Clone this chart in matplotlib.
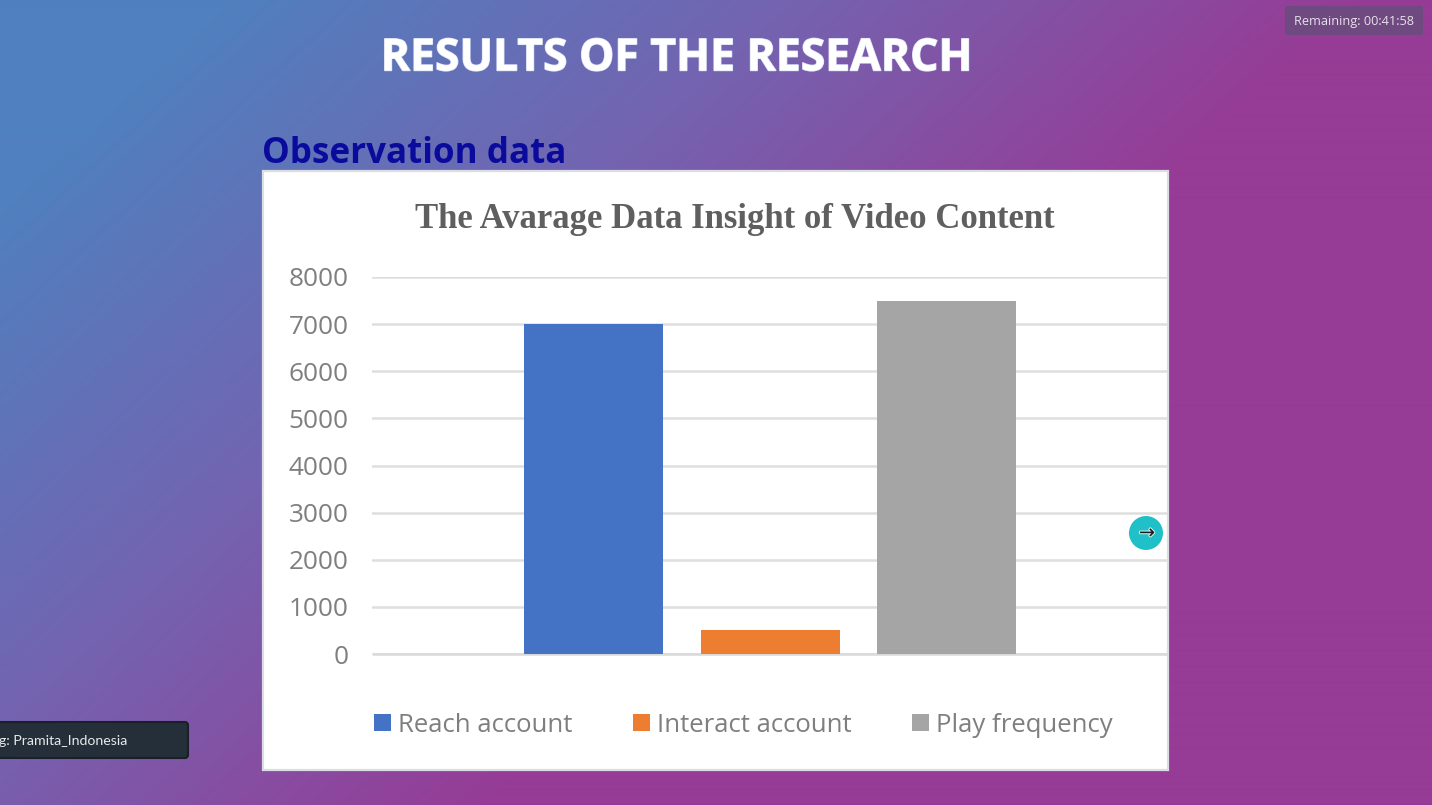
import numpy as np
import matplotlib
matplotlib.use("Agg")
import matplotlib.pyplot as plt
from matplotlib.colors import LinearSegmentedColormap
from matplotlib.patches import FancyBboxPatch, Rectangle, Circle
import matplotlib.patheffects as pe

series_names = ["Reach account", "Interact account", "Play frequency"]
series_values = [7000, 500, 7500]
series_colors = ["#4472c4", "#ed7d31", "#a5a5a5"]
y_ticks = [0, 1000, 2000, 3000, 4000, 5000, 6000, 7000, 8000]

W, H = 1432, 805
fig = plt.figure(figsize=(W / 100, H / 100), dpi=100)

# overlay in pixel coordinates for the slide
bg = fig.add_axes([0, 0, 1, 1], zorder=0)
bg.set_xlim(0, W)
bg.set_ylim(H, 0)
bg.axis("off")
xx, yy = np.meshgrid(np.arange(W), np.arange(H))
t = np.clip((xx + 1.09 * yy - 230) / 1130, 0, 1)
cmap = LinearSegmentedColormap.from_list("g", ["#5080bf", "#7463b0", "#963c96"])
bg.imshow(t, cmap=cmap, extent=(0, W, H, 0), aspect="auto", vmin=0, vmax=1)
bg.set_xlim(0, W)
bg.set_ylim(H, 0)

bg.add_patch(Rectangle((263, 171), 905, 599, fc="white", ec="#dcdce4", lw=1.6))

bg.text(677, 59, "RESULTS OF THE RESEARCH", family="Open Sans", weight="bold",
        fontsize=32, color="white", ha="center", va="center",
        path_effects=[pe.withStroke(linewidth=1, foreground="#d8e0f8")])
bg.text(262, 154, "Observation data", family="Open Sans", weight="bold",
        fontsize=25.2, color="#0a0a9c", ha="left", va="center")
bg.text(735, 219, "The Avarage Data Insight of Video Content",
        family="Liberation Serif", weight="bold", fontsize=25, color="#5f5f5f",
        ha="center", va="center")

# remaining-time chip
bg.add_patch(FancyBboxPatch((1285, 6), 138, 29, boxstyle="round,pad=0,rounding_size=2",
                            fc="#6e4a80", ec="none"))
bg.text(1353.5, 21, "Remaining: 00:41:58", family="Open Sans", fontsize=9.2,
        color="#e8dfea", ha="center", va="center")

# name chip
bg.add_patch(FancyBboxPatch((-10, 722), 198, 36, boxstyle="round,pad=0,rounding_size=3",
                            fc="#252f3a", ec="#1a1f28", lw=1.5))
bg.text(-1, 741, "g: Pramita_Indonesia", family="Lato", fontsize=10.2,
        color="#e6e8ea", ha="left", va="center")

# chart axes: x pixels 372..1169, y pixels 654..277
ax = fig.add_axes([372 / W, 1 - 654 / H, (1168 - 372) / W, (654 - 277) / H], zorder=2)
ax.patch.set_alpha(0)
x = np.arange(len(series_values))
bars = ax.bar(x, series_values, width=0.7875, color=series_colors, zorder=3,
              label="_nolegend_")
ax.set_xlim(-1.256, 3.254)
ax.set_ylim(0, 8000)
ax.set_yticks(y_ticks)
ax.set_xticks([])
ax.grid(axis="y", color="#dedede", lw=1.8, zorder=0)
ax.set_axisbelow(True)
for s in ax.spines.values():
    s.set_visible(False)
ax.spines["bottom"].set_visible(True)
ax.spines["bottom"].set_color("#d9d9d9")
ax.spines["bottom"].set_linewidth(1.8)
ax.spines["bottom"].set_capstyle("butt")
ax.tick_params(axis="y", length=0, pad=16.8, labelsize=18.8, labelcolor="#7f7f7f")
for lab in ax.get_yticklabels():
    lab.set_family("Open Sans")
    lab.set_clip_on(False)

leg = fig.legend(bars, series_names, loc="center left",
                 bbox_to_anchor=(351 / W, 1 - 725 / H), ncol=3, frameon=False,
                 prop={"family": "Open Sans", "size": 18.55},
                 labelcolor="#7f7f7f", handlelength=0.66, handleheight=0.66,
                 handletextpad=0.26, columnspacing=2.36)

# arrow button
bg2 = fig.add_axes([0, 0, 1, 1], zorder=3)
bg2.set_xlim(0, W)
bg2.set_ylim(H, 0)
bg2.axis("off")
bg2.add_patch(Circle((1146, 533), 17, fc="#1fc0c8", ec="none"))
bg2.text(1147, 533, "\u2192", family="DejaVu Sans", fontsize=14, color="#1a1a1a",
         ha="center", va="center",
         path_effects=[pe.withStroke(linewidth=1.5, foreground="#dfe8e8")])

fig.savefig("out.png", dpi=100)
